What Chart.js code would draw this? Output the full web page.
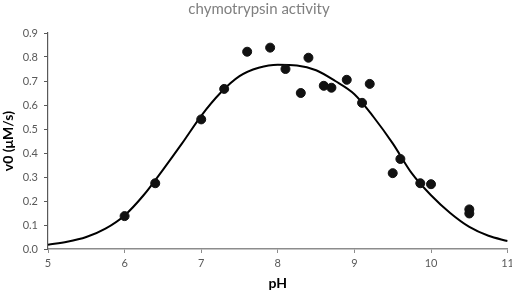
<!DOCTYPE html>
<html>
<head>
<meta charset="utf-8">
<script src="https://cdn.jsdelivr.net/npm/chart.js@4/dist/chart.umd.min.js"></script>
<style>
  html, body { margin: 0; padding: 0; background: #fff; overflow: hidden; }
  #wrap { width: 518px; height: 292px; }
</style>
</head>
<body>
<div id="wrap"><canvas id="chart_activity"></canvas></div>
<script>
// measured activity
var phValues = [6.0, 6.4, 7.0, 7.3, 7.6, 7.9, 8.1, 8.3, 8.4, 8.6, 8.7, 8.9, 9.1, 9.2, 9.5, 9.6, 9.86, 10.0, 10.5, 10.5];
var v0Values = [0.137, 0.274, 0.54, 0.667, 0.822, 0.839, 0.75, 0.65, 0.797, 0.68, 0.672, 0.705, 0.609, 0.688, 0.316, 0.375, 0.274, 0.27, 0.165, 0.148];

// fitted curve
var fitPh = [5.0, 5.25, 5.5, 5.75, 6.0, 6.25, 6.5, 6.75, 7.0, 7.25, 7.5, 7.75, 8.0, 8.25, 8.5, 8.75, 9.0, 9.25, 9.5, 9.75, 10.0, 10.25, 10.5, 10.75, 11.0];
var fitV0 = [0.018, 0.03, 0.05, 0.085, 0.14, 0.225, 0.33, 0.44, 0.555, 0.65, 0.72, 0.755, 0.768, 0.765, 0.745, 0.70, 0.645, 0.55, 0.44, 0.315, 0.224, 0.15, 0.092, 0.055, 0.033];

var xTicks = [5, 6, 7, 8, 9, 10, 11];

function toPoints(xs, ys) {
  return xs.map(function (x, i) { return { x: x, y: ys[i] }; });
}

Chart.defaults.font.family = "Lato, 'Open Sans', sans-serif";

new Chart("chart_activity", {
  type: "scatter",
  data: {
    datasets: [
      {
        label: "data",
        data: toPoints(phValues, v0Values),
        backgroundColor: "#111",
        borderColor: "#111",
        pointRadius: 4.5,
        order: 0,
      },
      {
        label: "fit",
        data: toPoints(fitPh, fitV0),
        showLine: true,
        borderColor: "#000",
        borderWidth: 2,
        pointRadius: 0,
        cubicInterpolationMode: "monotone",
        order: 1,
      },
    ],
  },
  options: {
    animation: false,
    responsive: true,
    maintainAspectRatio: false,
    layout: { padding: 0 },
    plugins: {
      legend: { display: false },
      tooltip: { enabled: false },
      title: {
        display: true,
        text: "chymotrypsin activity",
        color: "#808080",
        font: { size: 15, weight: "normal" },
        padding: { top: 0, bottom: 15 },
      },
    },
    scales: {
      x: {
        type: "linear",
        min: 5,
        max: 11,
        afterBuildTicks: function (scale) {
          scale.ticks = xTicks.map(function (v) { return { value: v }; });
        },
        border: { display: true, color: "#8c8c8c", width: 1.5 },
        grid: { display: true, drawOnChartArea: false, drawTicks: true, tickLength: 4, color: "#8c8c8c" },
        ticks: { color: "#595959", font: { size: 11 }, padding: 4 },
        title: { display: true, text: "pH", color: "#000", font: { size: 14, weight: "bold" }, padding: { top: 2, bottom: 0 } },
        afterFit: function (scale) { scale.height = 43; },
      },
      y: {
        type: "linear",
        min: 0,
        max: 0.9,
        border: { display: true, color: "#595959", width: 1.2 },
        grid: { display: true, drawOnChartArea: false, drawTicks: true, tickLength: 4, color: "#595959" },
        ticks: {
          stepSize: 0.1,
          color: "#595959",
          font: { size: 11 },
          padding: 6,
          callback: function (v) { return v.toFixed(1); },
        },
        title: { display: true, text: "v0 (μM/s)", color: "#000", font: { size: 14, weight: "bold" }, padding: { top: 0, bottom: 2 } },
        afterFit: function (scale) { scale.width = 48; },
      },
    },
  },
});
</script>
</body>
</html>
